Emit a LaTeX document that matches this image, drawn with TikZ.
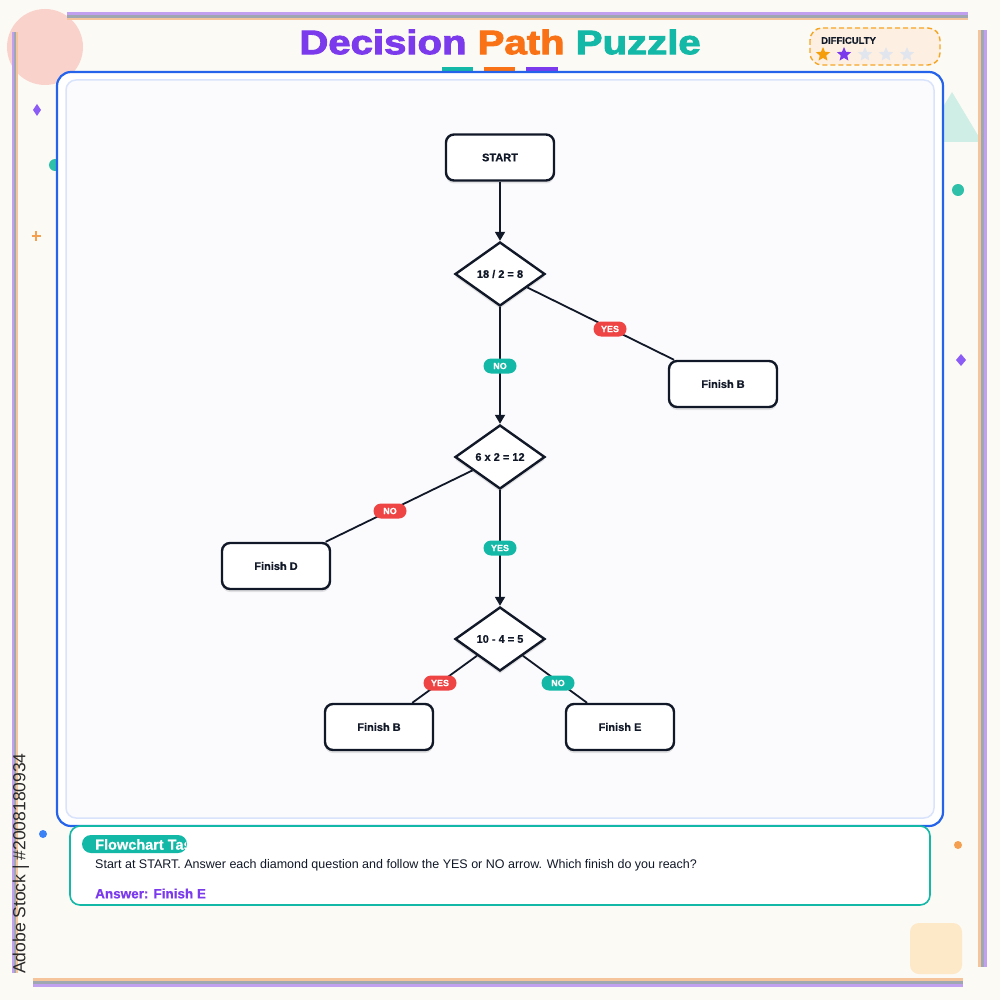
\documentclass[tikz,border=0pt]{standalone}
\usepackage{fontspec}
\setmainfont{Liberation Sans}[BoldFeatures={FakeBold=0.6}]
\newfontfamily\titlefont{Liberation Sans}[BoldFeatures={FakeBold=2.5}]
\usetikzlibrary{shapes.geometric,arrows.meta,shadows}
\definecolor{bgc}{HTML}{FCFAF4}
\definecolor{ink}{HTML}{111827}
\definecolor{vpurple}{HTML}{7C3AED}
\definecolor{vorange}{HTML}{F97316}
\definecolor{vteal}{HTML}{14B8A6}
\definecolor{vred}{HTML}{EF4444}
\definecolor{vblue}{HTML}{2563EB}
\definecolor{lblue}{HTML}{D9E3FB}
\definecolor{panelfill}{HTML}{FBFBFD}
\definecolor{pinkc}{HTML}{F9CCC6}
\definecolor{stripP}{HTML}{C2A0F0}
\definecolor{stripG}{HTML}{9EA7B2}
\definecolor{stripO}{HTML}{F5C49A}
\definecolor{dashor}{HTML}{F5A524}
\definecolor{peach}{HTML}{FDF0E2}
\definecolor{stargray}{HTML}{E1E5EE}
\definecolor{staror}{HTML}{F59E0B}
\definecolor{trit}{HTML}{CFEEE6}
\definecolor{dotteal}{HTML}{2EC0A8}
\definecolor{dpurple}{HTML}{8B5CF6}
\definecolor{dblue}{HTML}{3B82F6}
\definecolor{dorange}{HTML}{F5A050}
\definecolor{sqpeach}{HTML}{FDE8C8}
\definecolor{wmgray}{HTML}{2A2A2A}
\tikzset{
  boxnode/.style={draw=ink, line width=2.4pt, fill=white, rounded corners=8pt,
    minimum width=108pt, minimum height=46pt, inner sep=0pt,
    font=\bfseries\fontsize{11}{13}\selectfont, text=ink,
    drop shadow={shadow xshift=0pt, shadow yshift=-3pt, opacity=0.10, fill=black}},
  decnode/.style={diamond, draw=ink, line width=2.4pt, fill=white,
    minimum width=90pt, minimum height=64pt, inner sep=0pt,
    font=\bfseries\fontsize{11}{13}\selectfont, text=ink,
    drop shadow={shadow xshift=0pt, shadow yshift=-3pt, opacity=0.10, fill=black}},
  conn/.style={draw=ink, line width=1.8pt},
  arr/.style={conn, -{Triangle[length=9pt,width=10pt]}},
  pill/.style={rounded corners=7.5pt, minimum width=33pt, minimum height=15pt, inner sep=0pt,
    text=white, font=\bfseries\fontsize{9}{10}\selectfont},
  starnode/.style={star, star points=5, star point ratio=2.2, minimum size=15pt, inner sep=0pt}
}
\begin{document}
\begin{tikzpicture}[x=1pt,y=-1pt]
\fill[bgc] (0,0) rectangle (1000,1000);
\path[use as bounding box] (0,0) rectangle (1000,1000);

% decorations behind
\fill[pinkc, opacity=0.85] (45,47) circle (38);
\fill[trit] (952,92) -- (982,142) -- (922,142) -- cycle;
\fill[dotteal] (55,165) circle (6);

% frame strips
\fill[stripP] (67,12.5) rectangle (968,15.5);
\fill[stripG] (67,15.5) rectangle (968,18);
\fill[stripO] (67,18) rectangle (968,20.5);
\fill[stripP] (12,32) rectangle (14,973);
\fill[stripG] (14,32) rectangle (16,973);
\fill[stripO] (16,32) rectangle (17.5,973);
\fill[stripO] (978,30) rectangle (980.5,967);
\fill[stripG] (980.5,30) rectangle (984,967);
\fill[stripP] (984,30) rectangle (987,967);
\fill[stripO] (33,978) rectangle (963,980.5);
\fill[stripG] (33,980.5) rectangle (963,984);
\fill[stripP] (33,984) rectangle (963,986.5);

% title
\node (title) at (500,42) {\titlefont\fontsize{34}{40}\selectfont\bfseries\scalebox{1.18}[1]{\textcolor{vpurple}{Decision} \textcolor{vorange}{Path} \textcolor{vteal}{Puzzle}}};
\fill[vteal] (442,67) rectangle (473,76);
\fill[vorange] (484,67) rectangle (515,76);
\fill[vpurple] (526,67) rectangle (558,76);

% difficulty
\draw[dashor, line width=1.4pt, dash pattern=on 5pt off 3pt, fill=peach, rounded corners=12pt] (810,28) rectangle (940,65);
\node[anchor=west, inner sep=0pt, font=\bfseries\fontsize{9.5}{11}\selectfont, text=ink] (diff) at (821,40.5) {DIFFICULTY};
\node[starnode, fill=staror] (s1) at (823,54.5) {};
\node[starnode, fill=vpurple] (s2) at (844,54.5) {};
\node[starnode, fill=stargray] (s3) at (865,54.5) {};
\node[starnode, fill=stargray] (s4) at (886,54.5) {};
\node[starnode, fill=stargray] (s5) at (907,54.5) {};

% side decorations
\fill[dpurple] (37,104) -- (41,110) -- (37,116) -- (33,110) -- cycle;
\draw[dorange, line width=1.8pt] (31.5,236) -- (40.5,236) (36,231.5) -- (36,240.5);
\fill[dblue] (43,834) circle (4);
\fill[dotteal] (958,190) circle (6);
\fill[dpurple] (961,354) -- (966,360) -- (961,366) -- (956,360) -- cycle;
\fill[dorange] (958,845) circle (4);
\fill[sqpeach, rounded corners=9pt] (910,923) rectangle (962,974);

% main panel
\draw[vblue, line width=2.2pt, fill=white, rounded corners=14pt] (57,72) rectangle (943,826);
\draw[lblue, line width=1.5pt, fill=panelfill, rounded corners=10pt] (66,80) rectangle (934,818);

% flowchart
\node[boxnode] (start) at (500,157.5) {START};
\node[decnode] (d1) at (500,274) {18 / 2 = 8};
\node[boxnode] (fb1) at (723,384) {Finish B};
\node[decnode] (d2) at (500,457) {6 x 2 = 12};
\node[boxnode] (fd) at (276,566) {Finish D};
\node[decnode] (d3) at (500,639) {10 - 4 = 5};
\node[boxnode] (fb2) at (379,727) {Finish B};
\node[boxnode] (fe) at (620,727) {Finish E};

\draw[arr] (start) -- (d1);
\draw[arr] (d1) -- (d2);
\draw[arr] (d2) -- (d3);
\draw[conn] (d1) -- (fb1);
\draw[conn] (d2) -- (fd);
\draw[conn] (d3) -- (fb2);
\draw[conn] (d3) -- (fe);

\node[pill, fill=vred] (l1) at (610,329) {YES};
\node[pill, fill=vteal] (l2) at (500,366) {NO};
\node[pill, fill=vred] (l3) at (390,511) {NO};
\node[pill, fill=vteal] (l4) at (500,548) {YES};
\node[pill, fill=vred] (l5) at (440,683) {YES};
\node[pill, fill=vteal] (l6) at (558,683) {NO};

% task panel
\draw[vteal, line width=1.6pt, fill=white, rounded corners=10pt] (70,826) rectangle (930,905);
\fill[vteal, rounded corners=9pt] (82,835) rectangle (187,853);
\begin{scope}
\clip (82,835) rectangle (186,853);
\node[anchor=west, inner sep=0pt, text=white, font=\bfseries\fontsize{14.5}{16}\selectfont] (tag) at (95,844.5) {Flowchart Task};
\end{scope}
\node[anchor=west, inner sep=0pt, text=ink, font=\fontsize{12.5}{14}\selectfont] (task) at (95,865) {Start at START. Answer each diamond question and follow the YES or NO arrow. Which finish do you reach?};
\node[anchor=west, inner sep=0pt, text=vpurple, font=\bfseries\fontsize{13.5}{15}\selectfont] (ans) at (95,893.5) {Answer: Finish E};

% vertical stock label
\node[rotate=90, anchor=west, inner sep=0pt, text=wmgray, font=\fontsize{17.5}{19}\selectfont] (stock) at (21,974) {Adobe Stock | \#2008180934};
\end{tikzpicture}
\end{document}
